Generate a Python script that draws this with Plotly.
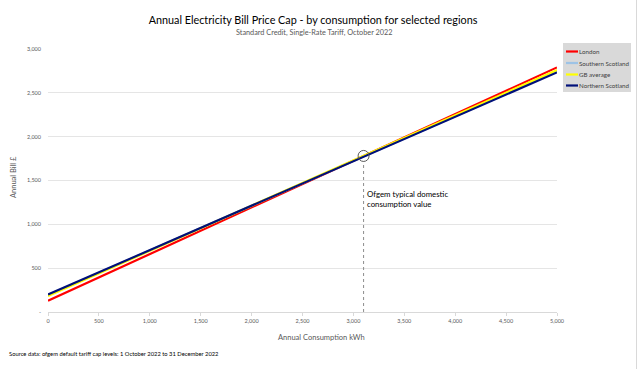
import plotly.graph_objects as go

# Data (annual bill £ at 0 and 5,000 kWh)
consumption = [0, 5000]
london = [128, 2790]
southern_scotland = [192, 2745]
gb_average = [182, 2760]
northern_scotland = [199, 2733]

series_names = ["London", "Southern Scotland", "GB average", "Northern Scotland"]
series_values = [london, southern_scotland, gb_average, northern_scotland]
series_colors = ["#FF0000", "#9DC3E6", "#FFFF00", "#00107A"]

tdcv_kwh = 3100
tdcv_bill = 1780

x_ticks = [0, 500, 1000, 1500, 2000, 2500, 3000, 3500, 4000, 4500, 5000]
x_ticktext = ["0", "500", "1,000", "1,500", "2,000", "2,500", "3,000", "3,500", "4,000", "4,500", "5,000"]
y_ticks = [0, 500, 1000, 1500, 2000, 2500, 3000]
y_ticktext = ["-", "500", "1,000", "1,500", "2,000", "2,500", "3,000"]

FONT = "Lato"
W, H = 640, 369
ML, MR, MT, MB = 48, 83, 49, 57
PW, PH = W - ML - MR, H - MT - MB


def px(xp):
    return (xp - ML) / PW


def py(yp):
    return (H - MB - yp) / PH


fig = go.Figure()
for name, vals, col in zip(series_names, series_values, series_colors):
    fig.add_trace(go.Scatter(x=consumption, y=vals, mode="lines", name=name,
                             line=dict(color=col, width=2.2), showlegend=False))

# vertical guide line
fig.add_trace(go.Scatter(x=[tdcv_kwh, tdcv_kwh], y=[0, tdcv_bill - 65], mode="lines",
                         line=dict(color="#8C8C8C", width=1, dash="dot"), showlegend=False, hoverinfo="skip"))
# circle marker
fig.add_trace(go.Scatter(x=[tdcv_kwh], y=[tdcv_bill], mode="markers",
                         marker=dict(size=11, color="rgba(0,0,0,0)", line=dict(color="#595959", width=1)),
                         showlegend=False, hoverinfo="skip"))

fig.update_layout(
    width=W, height=H,
    margin=dict(l=ML, r=MR, t=MT, b=MB, autoexpand=False),
    paper_bgcolor="white", plot_bgcolor="white",
    font=dict(family=FONT, color="#595959"),
    title=dict(text="Annual Electricity Bill Price Cap - by consumption for selected regions",
               x=313 / W, xanchor="center", y=1 - 20 / H, yanchor="middle",
               font=dict(size=10.8, color="#000000", family=FONT)),
    showlegend=False,
    xaxis=dict(range=[0, 5000], tickvals=x_ticks, ticktext=x_ticktext, showgrid=False,
               showline=True, linecolor="#D9D9D9", linewidth=1, automargin=False,
               ticks="outside", ticklen=3, tickcolor="#D9D9D9",
               tickfont=dict(size=5.5, color="#595959"), zeroline=False),
    yaxis=dict(range=[0, 3000], tickvals=y_ticks, ticktext=y_ticktext, showgrid=True,
               gridcolor="#E5E5E5", gridwidth=1, zeroline=False, showline=False, automargin=False,
               tickfont=dict(size=5.5, color="#595959"), ticks="", ticklabelstandoff=6),
)

fig.add_annotation(text="Annual Consumption kWh", xref="paper", yref="paper",
                   x=px(321), y=py(337), xanchor="center", yanchor="middle", showarrow=False,
                   font=dict(size=7.5, color="#595959", family=FONT))
fig.add_annotation(text="Annual Bill £", xref="paper", yref="paper", textangle=-90,
                   x=px(13), y=py(177), xanchor="center", yanchor="middle", showarrow=False,
                   font=dict(size=7.5, color="#595959", family=FONT))
fig.add_annotation(text="Standard Credit, Single-Rate Tariff, October 2022", xref="paper", yref="paper",
                   x=px(314), y=py(33), xanchor="center", yanchor="middle", showarrow=False,
                   font=dict(size=7.3, color="#595959", family=FONT))
fig.add_annotation(text="Ofgem typical domestic<br>consumption value", xref="paper", yref="paper",
                   x=px(365), y=py(199), xanchor="left", yanchor="middle", showarrow=False,
                   align="left", font=dict(size=7.8, color="#000000", family=FONT))
fig.add_annotation(text="Source data: ofgem default tariff cap levels: 1 October 2022 to 31 December 2022",
                   xref="paper", yref="paper", x=px(7), y=py(353), xanchor="left", yanchor="middle",
                   showarrow=False, font=dict(size=5.8, color="#000000", family=FONT))

# manual legend
fig.add_shape(type="rect", xref="paper", yref="paper", x0=px(563), x1=px(631), y0=py(43), y1=py(92),
              fillcolor="#D9D9D9", line=dict(width=0), layer="below")
leg_y = [51.5, 63, 74.5, 85.5]
for name, col, yp in zip(series_names, series_colors, leg_y):
    fig.add_shape(type="line", xref="paper", yref="paper", x0=px(566), x1=px(578), y0=py(yp), y1=py(yp),
                  line=dict(color=col, width=2.2))
    fig.add_annotation(text=name, xref="paper", yref="paper", x=px(577), y=py(yp), xanchor="left",
                       yanchor="middle", showarrow=False, font=dict(size=6.2, color="#404040", family=FONT))

# sheet border remnant on the right
fig.add_shape(type="line", xref="paper", yref="paper", x0=px(636.5), x1=px(636.5), y0=py(0), y1=py(H),
              line=dict(color="#D9D9D9", width=1))

fig.write_html("out.html", config={"displayModeBar": False},
               post_script="document.body.style.margin='0px';document.body.style.padding='0px';")
